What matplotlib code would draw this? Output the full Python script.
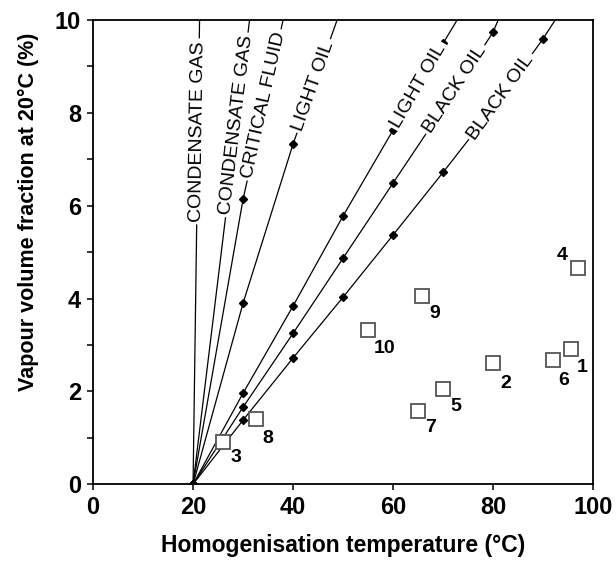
import numpy as np
import matplotlib.pyplot as plt

plt.rcParams['font.family'] = ['Liberation Sans', 'DejaVu Sans']

# phase lines: homogenisation temperature (x) vs vapour fraction (y), all from (20, 0)
line_names = ["CONDENSATE GAS", "CONDENSATE GAS", "CRITICAL FLUID", "LIGHT OIL",
              "LIGHT OIL", "BLACK OIL", "BLACK OIL"]
line_x = [
    [20, 21.3],
    [20, 31.3],
    [20, 30, 38.0],
    [20, 30, 40, 48.8],
    [20, 30, 40, 50, 60, 70, 72.8],
    [20, 30, 40, 50, 60, 70, 80, 81.0],
    [20, 30, 40, 50, 60, 70, 80, 90, 92.4],
]
line_y = [
    [0, 10],
    [0, 10],
    [0, 6.14, 10],
    [0, 3.90, 7.33, 10],
    [0, 1.96, 3.84, 5.78, 7.63, 9.50, 10],
    [0, 1.66, 3.25, 4.87, 6.49, 8.10, 9.74, 10],
    [0, 1.38, 2.72, 4.03, 5.37, 6.72, 8.10, 9.60, 10],
]
# vapour fraction at which each line label is centred
label_y = [7.6, 7.74, 8.17, 8.58, 8.58, 8.5, 8.34]

# measured inclusions
sample_id = ["1", "2", "3", "4", "5", "6", "7", "8", "9", "10"]
sample_t = [95.6, 80.0, 26.0, 97.0, 70.0, 92.0, 65.0, 32.6, 65.8, 55.0]
sample_v = [2.91, 2.60, 0.90, 4.65, 2.05, 2.67, 1.57, 1.40, 4.05, 3.32]
label_off = [(11, -18), (13, -20), (13, -15), (-16, 13), (13, -17),
             (10, -20), (12, -16), (12, -19), (13, -17), (16, -18)]

fig = plt.figure(figsize=(6.16, 5.63), dpi=100)
ax = fig.add_axes([0.151, 0.140, 0.812, 0.8245])

for xs, ys, name, ly in zip(line_x, line_y, line_names, label_y):
    xs = np.array(xs, dtype=float)
    ys = np.array(ys, dtype=float)
    ax.plot(xs, ys, color='black', lw=0.9, zorder=2)
    mk = (ys < 10)
    ax.plot(xs[mk], ys[mk], ls='none', marker='D', ms=4, color='black', zorder=2)
    # label along the line, blanking it out underneath
    lx = np.interp(ly, ys, xs)
    i = np.searchsorted(ys, ly) - 1
    ang = np.degrees(np.arctan2(ys[i + 1] - ys[i], xs[i + 1] - xs[i]))
    ax.text(lx, ly, name, rotation=ang, transform_rotates_text=True,
            rotation_mode='anchor', ha='center', va='center', fontsize=14,
            zorder=3, bbox=dict(facecolor='white', edgecolor='none', pad=2))

ax.plot(sample_t, sample_v, ls='none', marker='s', ms=10.5, mfc='white',
        mec='#555555', mew=1.3, zorder=4)
for sid, t, v, off in zip(sample_id, sample_t, sample_v, label_off):
    ax.annotate(sid, (t, v), xytext=off, textcoords='offset pixels',
                ha='center', va='center', fontsize=14, fontweight='bold')

ax.set_xlim(0, 100)
ax.set_ylim(0, 10)
ax.set_xticks([0, 20, 40, 60, 80, 100])
ax.set_yticks([0, 2, 4, 6, 8, 10])
ax.set_yticks([1, 3, 5, 7, 9], minor=True)
ax.tick_params(which='major', length=4.5, width=1.1, labelsize=17, pad=4)
ax.tick_params(which='minor', length=4, width=1.1)
for lab in ax.get_xticklabels() + ax.get_yticklabels():
    lab.set_fontweight('bold')
for s in ax.spines.values():
    s.set_linewidth(1.3)

ax.set_xlabel("Homogenisation temperature (°C)", fontsize=16.5, fontweight='bold', labelpad=11)
ax.set_ylabel("Vapour volume fraction at 20°C (%)", fontsize=15.5, fontweight='bold')
ax.yaxis.set_label_coords(-0.108, 0.586)

fig.savefig('out.png', dpi=100)
